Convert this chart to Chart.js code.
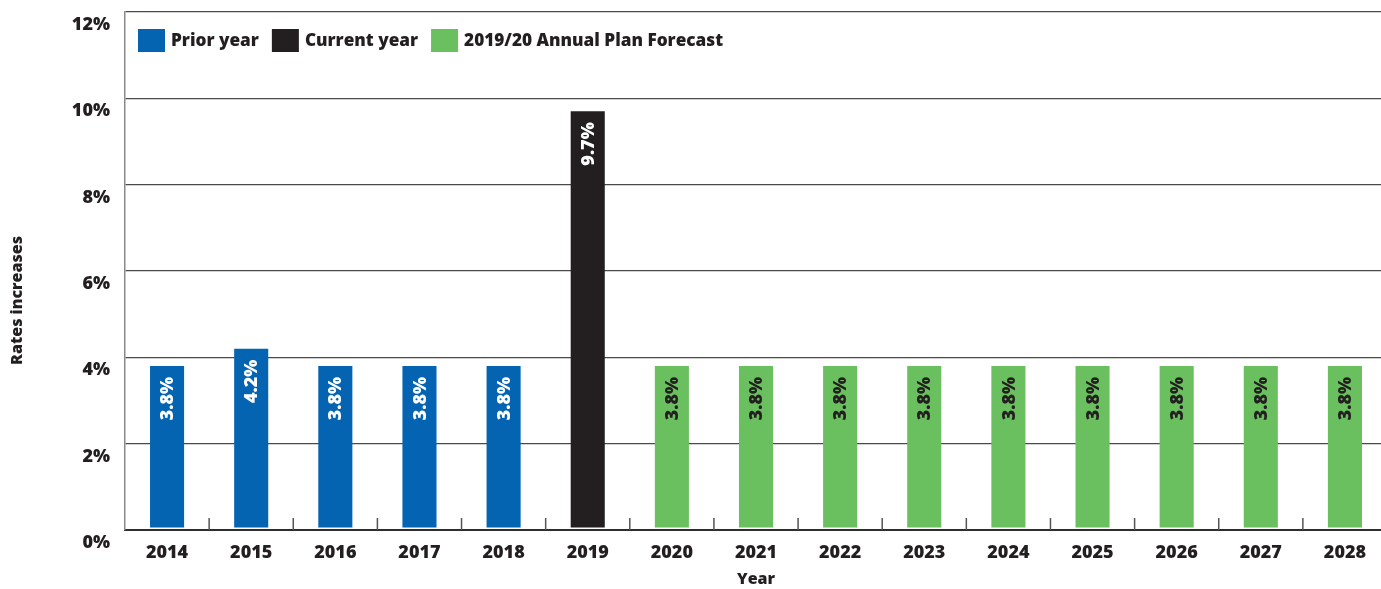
<!DOCTYPE html>
<html>
<head>
<meta charset="utf-8">
<title>Rates increases</title>
<script src="https://cdn.jsdelivr.net/npm/chart.js@4/dist/chart.umd.min.js"></script>
<style>
  html, body { margin: 0; padding: 0; background: #fff; overflow: hidden; }
  canvas { display: block; }
</style>
</head>
<body>
<canvas id="grafico" width="1388" height="589"></canvas>
<script>
// Years on the x axis
const years = ['2014', '2015', '2016', '2017', '2018', '2019', '2020', '2021',
               '2022', '2023', '2024', '2025', '2026', '2027', '2028'];

// Rate increase (%) per year, one array per series
const priorYear = [3.8, 4.2, 3.8, 3.8, 3.8];          // 2014-2018
const currentYear = [9.7];                            // 2019
const planForecast = [3.8, 3.8, 3.8, 3.8, 3.8, 3.8, 3.8, 3.8, 3.8]; // 2020-2028

const yTicks = [0, 2, 4, 6, 8, 10, 12];

const labelsSeries = ['Prior year', 'Current year', '2019/20 Annual Plan Forecast'];
const colores = ['#0564b2', '#231f20', '#6abf5e'];
const coloresTexto = ['#ffffff', '#ffffff', '#231f20'];

const FUENTE = '"Open Sans", Lato, sans-serif';
const PESO = '800';
const OSCURO = '#231f20';

// place each series in its own span of years, null elsewhere
function rellenar(valores, desde) {
    return years.map((y, i) => (i >= desde && i < desde + valores.length) ? valores[i - desde] : null);
}

const series = [
    rellenar(priorYear, 0),
    rellenar(currentYear, priorYear.length),
    rellenar(planForecast, priorYear.length + currentYear.length)
];

// vertical value labels inside the top of each bar
const etiquetasBarras = {
    id: 'etiquetasBarras',
    afterDatasetsDraw(chart) {
        const ctx = chart.ctx;
        chart.data.datasets.forEach((ds, d) => {
            const meta = chart.getDatasetMeta(d);
            meta.data.forEach((bar, i) => {
                const v = ds.data[i];
                if (v === null) return;
                ctx.save();
                ctx.translate(bar.x, bar.y + 11);
                ctx.rotate(-Math.PI / 2);
                ctx.font = PESO + ' 18px ' + FUENTE;
                ctx.fillStyle = coloresTexto[d];
                ctx.textAlign = 'right';
                ctx.textBaseline = 'middle';
                ctx.fillText(v.toFixed(1) + '%', 0, 1);
                ctx.restore();
            });
        });
    }
};

// short tick marks between the years, pointing up from the axis
const marcasEjeX = {
    id: 'marcasEjeX',
    afterDatasetsDraw(chart) {
        const x = chart.scales.x;
        const ctx = chart.ctx;
        const fondo = chart.chartArea.bottom;
        ctx.save();
        ctx.strokeStyle = '#555555';
        ctx.lineWidth = 1.5;
        for (let i = 1; i < years.length; i++) {
            const px = (x.getPixelForTick(i - 1) + x.getPixelForTick(i)) / 2;
            ctx.beginPath();
            ctx.moveTo(px, fondo);
            ctx.lineTo(px, fondo - 12);
            ctx.stroke();
        }
        ctx.restore();
    }
};

// legend inside the top-left corner of the plot
const leyenda = {
    id: 'leyenda',
    afterDraw(chart) {
        const ctx = chart.ctx;
        const area = chart.chartArea;
        let x = area.left + 13;
        const y = area.top + 17;
        ctx.save();
        ctx.font = PESO + ' 17.2px ' + FUENTE;
        ctx.textBaseline = 'middle';
        ctx.textAlign = 'left';
        chart.data.datasets.forEach(ds => {
            ctx.fillStyle = ds.backgroundColor;
            ctx.fillRect(x, y, 27, 23);
            x += 27 + 6;
            ctx.fillStyle = OSCURO;
            ctx.fillText(ds.label, x, y + 12);
            x += ctx.measureText(ds.label).width + 13;
        });
        ctx.restore();
    }
};

// y axis title, rotated on the left edge
const tituloY = {
    id: 'tituloY',
    afterDraw(chart) {
        const ctx = chart.ctx;
        ctx.save();
        ctx.translate(17, chart.height / 2 + 6);
        ctx.rotate(-Math.PI / 2);
        ctx.font = PESO + ' 16px ' + FUENTE;
        ctx.fillStyle = OSCURO;
        ctx.textAlign = 'center';
        ctx.textBaseline = 'middle';
        ctx.fillText('Rates increases', 0, 0);
        ctx.restore();
    }
};

function inicializarGrafico() {
    try {
        new Chart(document.getElementById('grafico').getContext('2d'), {
            type: 'bar',
            data: {
                labels: years,
                datasets: series.map((datos, i) => ({
                    label: labelsSeries[i],
                    data: datos,
                    backgroundColor: colores[i],
                    borderWidth: 0,
                    base: 0.06,
                    barPercentage: 0.405,
                    categoryPercentage: 1
                }))
            },
            options: {
                responsive: false,
                animation: false,
                events: [],
                layout: { padding: { top: 12, right: 1, left: 0, bottom: 0 } },
                plugins: {
                    legend: { display: false },
                    tooltip: { enabled: false }
                },
                scales: {
                    x: {
                        stacked: true,
                        afterFit: s => { s.height = 59; },
                        grid: { display: true, drawOnChartArea: false, drawTicks: false },
                        border: { display: true, color: '#2e2e2e', width: 2 },
                        ticks: {
                            color: OSCURO,
                            padding: 12,
                            font: { family: FUENTE, size: 18, weight: PESO }
                        },
                        title: {
                            display: true,
                            text: 'Year',
                            color: OSCURO,
                            padding: { top: 0, bottom: 0 },
                            font: { family: FUENTE, size: 16, weight: PESO }
                        }
                    },
                    y: {
                        min: 0,
                        max: 12,
                        afterFit: s => {
                            s.width = 125;
                            s.paddingTop = 0;
                            s.paddingBottom = 0;
                        },
                        afterBuildTicks: s => { s.ticks = yTicks.map(v => ({ value: v })); },
                        grid: { color: '#4a4a4a', lineWidth: 1.2, drawTicks: false },
                        border: { display: true, color: '#8a8a8a', width: 1.5 },
                        ticks: {
                            color: OSCURO,
                            padding: 15,
                            labelOffset: 13,
                            font: { family: FUENTE, size: 18, weight: PESO },
                            callback: v => v + '%'
                        }
                    }
                }
            },
            plugins: [marcasEjeX, etiquetasBarras, leyenda, tituloY]
        });
    } catch (error) {
        console.error('Error drawing chart:', error);
    }
}

inicializarGrafico();
</script>
</body>
</html>
